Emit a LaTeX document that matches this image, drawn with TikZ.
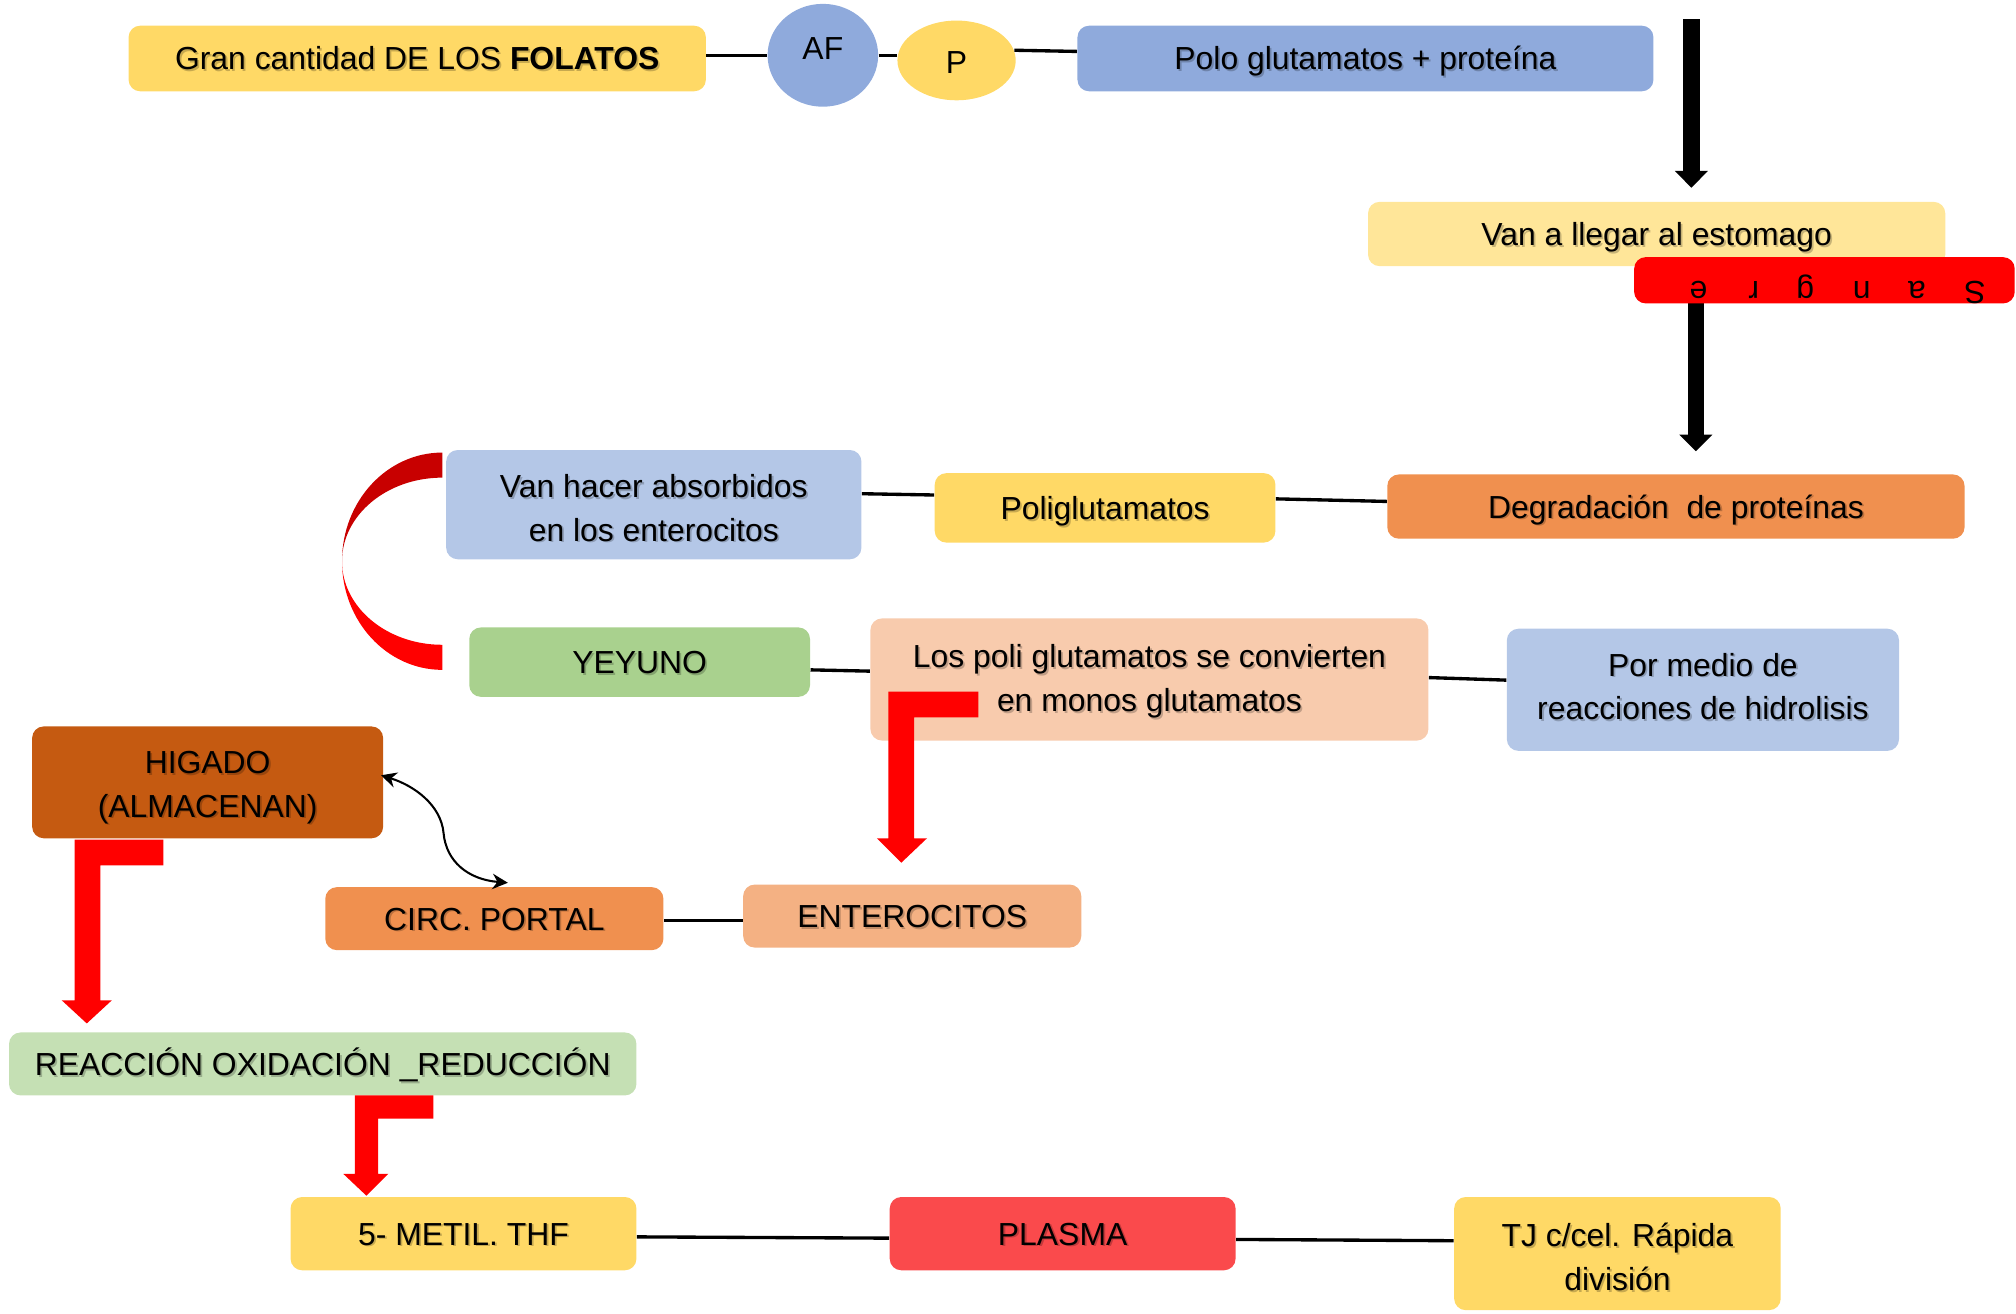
\documentclass[tikz,border=0pt]{standalone}
\usepackage{fontspec}
\setmainfont{Liberation Sans}
\usetikzlibrary{shapes.geometric,arrows.meta,calc}
\definecolor{cyel}{HTML}{FFD966}
\definecolor{cyellt}{HTML}{FFE699}
\definecolor{cblue}{HTML}{8FAADC}
\definecolor{cblt}{HTML}{B4C7E7}
\definecolor{corg}{HTML}{F0904F}
\definecolor{csalmon}{HTML}{F4B183}
\definecolor{cpeach}{HTML}{F8CBAD}
\definecolor{cgrn}{HTML}{A9D18E}
\definecolor{cgrnlt}{HTML}{C5E0B4}
\definecolor{cbrown}{HTML}{C55A11}
\definecolor{cplasma}{HTML}{FA4A4C}
\definecolor{cred}{HTML}{FF0000}
\definecolor{cdark}{HTML}{C80000}
% #1 text style, #2 name, #3-#6 corners (x1,y1,x2,y2), #7 colour, #8 text
\newcommand{\bx}[8][sline]{%
  \node[boxshape, fill=#7, minimum width={(#5-#3)*0.5pt}, minimum height={(#6-#4)*0.5pt}] (#2) at ({(#3+#5)/2},{(#4+#6)/2}) {};
  \node[txt, #1, text=black, opacity=0.22, xshift=0.7pt, yshift=-0.7pt] (#2-s) at (#2.center) {#8};
  \node[txt, #1] (#2-t) at (#2.center) {#8};}
\begin{document}
\begin{tikzpicture}[x=0.5pt,y=-0.5pt,
  boxshape/.style={rectangle, rounded corners=4.5pt, draw=none, inner sep=0pt},
  txt/.style={inner sep=0pt, align=center, font=\fontsize{12.4}{17}\selectfont},
  sline/.style={text height=10.6pt, text depth=1.7pt},
  mline/.style={},
  ell/.style={ellipse, draw=none, inner sep=0pt, font=\fontsize{12.4}{17}\selectfont,
    text height=10.6pt, text depth=1.7pt},
  conn/.style={line width=1.3pt},
  bigarrow/.style={line width=6.5pt, -{Triangle[length=6.5pt,width=12.5pt]}},
  dbl/.style={line width=0.8pt, {Stealth[length=6pt,width=6pt]}-{Stealth[length=6pt,width=6pt]}},
  letter/.style={rotate=180, anchor=base, inner sep=0pt, font=\fontsize{12.4}{17}\selectfont}]
\useasboundingbox (0,0) rectangle (1568,1022);

% top row
\bx{gran}{100}{20}{549}{71}{cyel}{Gran cantidad DE LOS \textbf{FOLATOS}}
\node[ell, fill=cblue, minimum width=43pt, minimum height=40pt] (af) at (640,43) {\raisebox{3pt}[0pt][0pt]{AF}};
\node[ell, fill=cyel, minimum width=46pt, minimum height=31pt] (p) at (744,47) {\raisebox{-0.75pt}[0pt][0pt]{P}};
\bx{polo}{838}{20}{1286}{71}{cblue}{Polo glutamatos + proteína}
\draw[conn] ([yshift=1.25pt]gran.east) -- (af.west);
\draw[conn] (af.east) -- (af.east -| p.west);
\draw[conn] (p.10) -- ([yshift=2.75pt]polo.west);

% black arrows and stomach
\coordinate (a1s) at (1315.5,15);
\coordinate (a1e) at (1315.5,146);
\draw[bigarrow] (a1s) -- (a1e);
\bx{llegar}{1064}{157}{1513}{207}{cyellt}{Van a llegar al estomago}
\coordinate (a2s) at (1319,215);
\coordinate (a2e) at (1319,351);
\draw[bigarrow] (a2s) -- (a2e);
\node[boxshape, fill=cred, minimum width=148pt, minimum height=18pt] (sangre) at (1419,218) {};
\node[letter] (l1) at (1321,219) {e};
\node[letter] (l2) at (1364,219) {r};
\node[letter] (l3) at (1404,219) {g};
\node[letter] (l4) at (1448,219) {n};
\node[letter] (l5) at (1491,219) {a};
\node[letter] (l6) at (1536,219) {S};

% second row
\bx[mline, yshift=-1.25pt]{absorb}{347}{350}{670}{435}{cblt}{Van hacer absorbidos\\en los enterocitos}
\bx{poli}{727}{368}{992}{422}{cyel}{Poliglutamatos}
\bx{degr}{1079}{369}{1528}{419}{corg}{Degradación~ de proteínas}
\draw[conn] ([yshift=4.25pt]absorb.east) -- ([yshift=5pt]poli.west);
\draw[conn] ([yshift=3.5pt]poli.east) -- ([yshift=2pt]degr.west);

% red crescent
\fill[cdark] (344,352) arc[start angle=90, end angle=180, x radius=39pt, y radius=42.25pt]
  arc[start angle=180, end angle=90, x radius=39pt, y radius=32.5pt] -- cycle;
\fill[cred] (266,436.5) arc[start angle=180, end angle=270, x radius=39pt, y radius=42.25pt]
  -- (344,501.5) arc[start angle=270, end angle=180, x radius=39pt, y radius=32.5pt] -- cycle;

% third row
\bx{yey}{365}{488}{630}{542}{cgrn}{YEYUNO}
\bx[mline, yshift=-0.75pt]{conv}{677}{481}{1111}{576}{cpeach}{Los poli glutamatos se convierten\\en monos glutamatos}
\bx[mline, yshift=1.25pt]{hidro}{1172}{489}{1477}{584}{cblt}{Por medio de\\reacciones de hidrolisis}
\draw[conn] ([yshift=-3pt]yey.east) -- ([yshift=3.25pt]conv.west);
\draw[conn] ([yshift=0.75pt]conv.east) -- ([yshift=3.75pt]hidro.west);
\fill[cred] (691,538) -- (761,538) -- (761,558) -- (711,558) -- (711,652) -- (721,652)
  -- (701,671) -- (682,652) -- (691,652) -- cycle;

% liver block
\bx[mline, yshift=-2pt]{hig}{25}{565}{298}{652}{cbrown}{HIGADO\\(ALMACENAN)}
\bx{circ}{253}{690}{516}{739}{corg}{CIRC. PORTAL}
\bx{ent}{578}{688}{841}{737}{csalmon}{ENTEROCITOS}
\draw[conn] ([yshift=-0.75pt]circ.east) -- ([yshift=-1.75pt]ent.west);
\coordinate (dmid) at (345,648);
\draw[dbl] ([xshift=-1pt,yshift=2.75pt]hig.east) .. controls (322,611) and (343,626) .. (dmid)
  .. controls (347,670) and (364,684) .. ([xshift=5.25pt,yshift=1.5pt]circ.north);
\fill[cred] (58,653) -- (127,653) -- (127,673) -- (78,673) -- (78,778) -- (87,778)
  -- (67.5,796) -- (48,778) -- (58,778) -- cycle;

% bottom
\bx{reac}{7}{803}{495}{852}{cgrnlt}{REACCIÓN OXIDACIÓN \_REDUCCIÓN}
\fill[cred] (276,852) -- (337,852) -- (337,870) -- (294,870) -- (294,913) -- (302,913)
  -- (285,930) -- (267,913) -- (276,913) -- cycle;
\bx{metil}{226}{931}{495}{988}{cyel}{5- METIL. THF}
\bx{plasma}{692}{931}{961}{988}{cplasma}{PLASMA}
\bx[mline, yshift=-1.25pt]{tj}{1131}{931}{1385}{1019}{cyel}{TJ c/cel. Rápida\\división}
\draw[conn] ([yshift=-1.25pt]metil.east) -- ([yshift=-1.75pt]plasma.west);
\draw[conn] ([yshift=-2.25pt]plasma.east) -- ([yshift=5pt]tj.west);
\end{tikzpicture}
\end{document}
